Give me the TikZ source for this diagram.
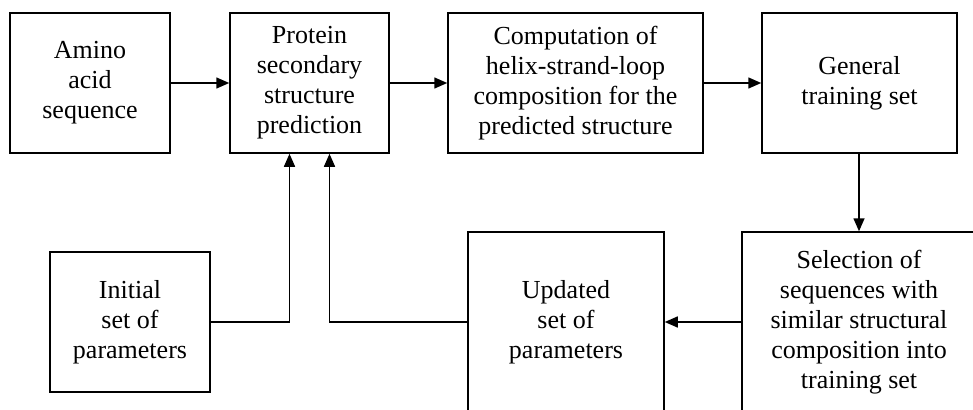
\documentclass[tikz,border=0pt]{standalone}
\usepackage{fontspec}
\setmainfont{Liberation Serif}
\usetikzlibrary{arrows.meta}
\begin{document}
\begin{tikzpicture}[x=1pt,y=-1pt,
  box/.style={draw,line width=1.5pt,align=center,inner sep=0pt,
    font=\fontsize{26}{30}\selectfont},
  arr/.style={line width=1.5pt,-{Triangle[length=13pt,width=11pt]}},
  ln/.style={line width=1.5pt}]
\useasboundingbox (0,0) rectangle (973,409);
\node[box,minimum width=160,minimum height=140] (amino) at (90,83) {Amino\\acid\\sequence};
\node[box,minimum width=159,minimum height=140] (pred) at (309.5,83) {Protein\\secondary\\structure\\prediction};
\node[box,minimum width=255,minimum height=140] (comp) at (575.5,83) {Computation of\\helix-strand-loop\\composition for the\\predicted structure};
\node[box,minimum width=195,minimum height=140] (gen) at (859.5,83) {General\\training set};
\node[box,minimum width=160,minimum height=140] (init) at (130,322) {Initial\\set of\\parameters};
\node[box,minimum width=196,minimum height=180] (upd) at (566,322) {Updated\\set of\\parameters};
\node[box,minimum width=234,minimum height=180] (sel) at (859,322) {Selection of\\sequences with\\similar structural\\composition into\\training set};
\draw[arr] (amino) -- (pred);
\draw[arr] (pred) -- (comp);
\draw[arr] (comp) -- (gen);
\draw[arr] (gen.south -| sel.north) -- (sel.north);
\draw[arr] (sel) -- (upd);
\draw[arr] (upd.west) -| ([xshift=20pt]pred.south);
\draw[arr] (init.east) -| ([xshift=-20pt]pred.south);
\end{tikzpicture}
\end{document}
